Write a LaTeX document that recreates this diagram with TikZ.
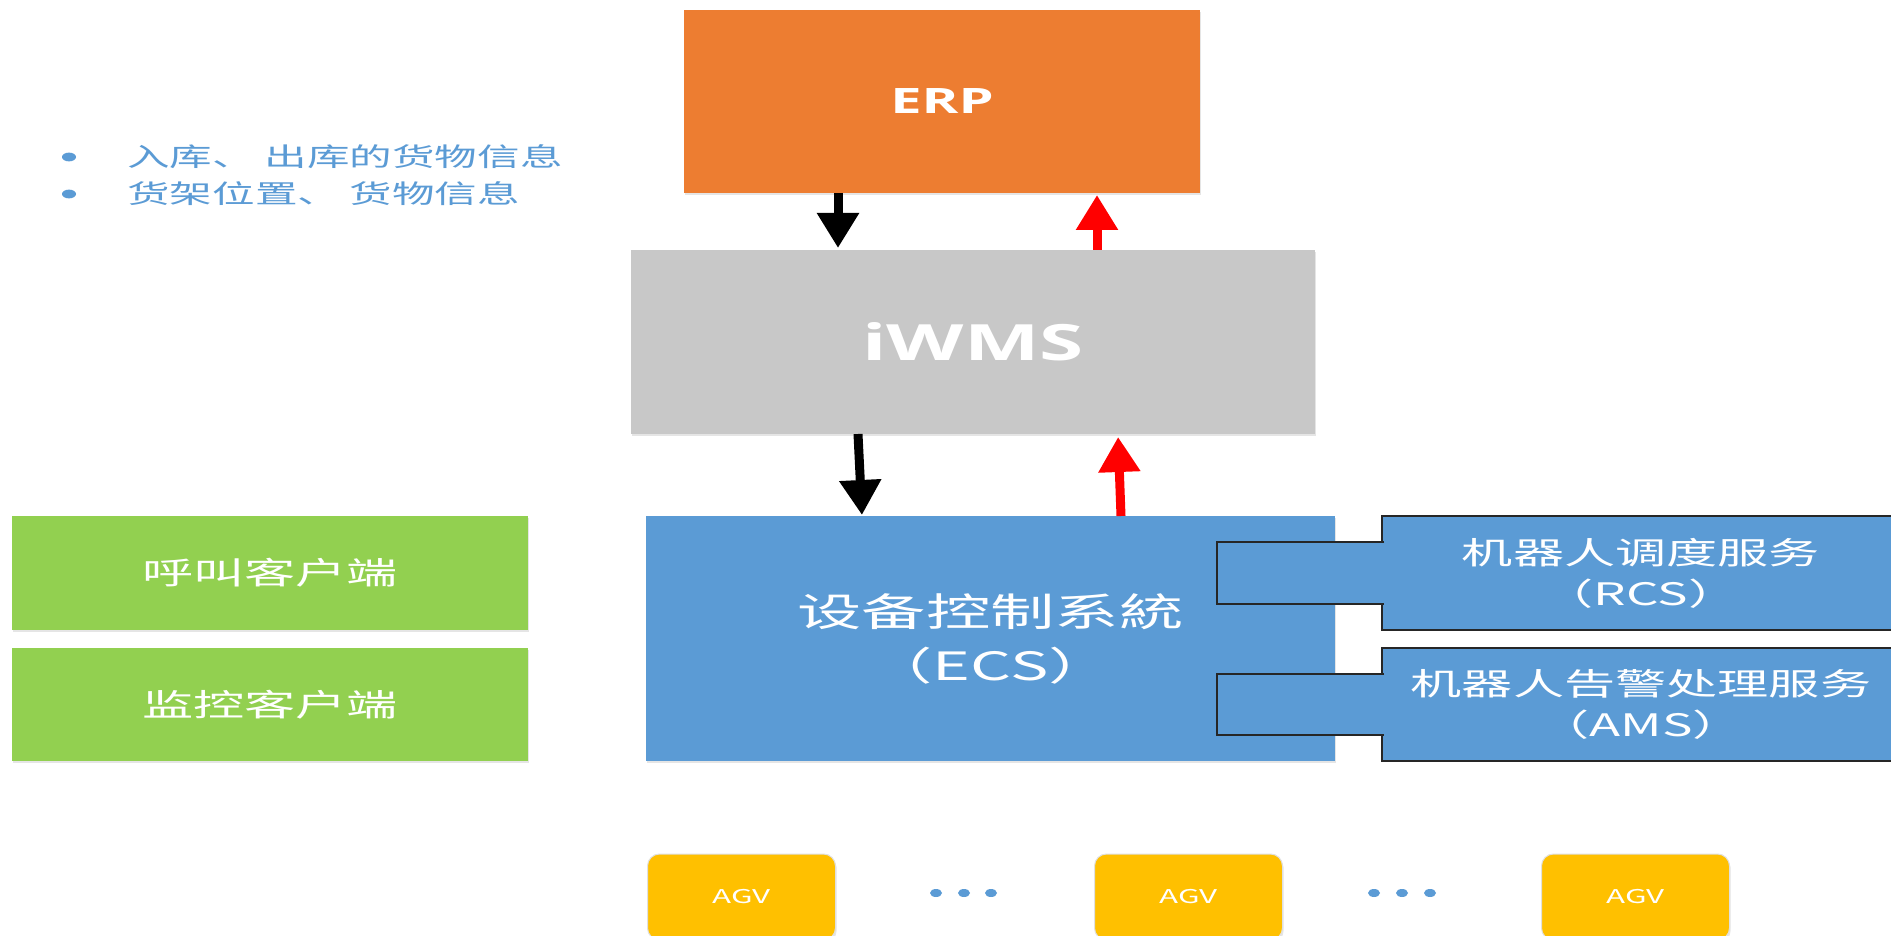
\documentclass[tikz,border=0pt]{standalone}
\usepackage{fontspec}
\newfontfamily\cjk[FakeStretch=1.65]{Noto Sans CJK SC}
\newfontfamily\latin[FakeStretch=1.6]{Open Sans}
\usetikzlibrary{arrows.meta,shadows}

\definecolor{erporange}{HTML}{ED7D31}
\definecolor{wmsgray}{HTML}{C8C8C8}
\definecolor{ecsblue}{HTML}{5B9BD5}
\definecolor{clientgreen}{HTML}{92D050}
\definecolor{agvyellow}{HTML}{FFC000}
\definecolor{edgedark}{HTML}{262626}

\begin{document}
\begin{tikzpicture}[x=0.5pt,y=-0.5pt,
  box/.style={rectangle, inner sep=0pt, outer sep=0pt, text=white, align=center},
  soft/.style={drop shadow={shadow xshift=0.6pt, shadow yshift=-1.2pt, fill=black, opacity=0.10}},
  arrowline/.style={line width=4.5pt, -{Triangle[length=17.5pt,width=20pt]}},
  downarrow/.style={arrowline, draw=black},
  uparrow/.style={arrowline, draw=red},
  service/.style={box, fill=ecsblue, draw=edgedark, line width=1pt, minimum width=259pt,
    font=\cjk\fontsize{15.5}{20.5}\selectfont},
  client/.style={box, soft, fill=clientgreen, minimum width=258pt,
    font=\cjk\fontsize{15.5}{18}\selectfont},
  agv/.style={box, soft, fill=agvyellow, draw=black!12, line width=0.5pt, rounded corners=6pt,
    minimum width=94pt, minimum height=43pt, font=\cjk\fontsize{9.5}{11}\selectfont},
  link/.style={fill=ecsblue, draw=edgedark, line width=1pt},
  dot/.style={fill=ecsblue, draw=none},
  info/.style={anchor=west, inner sep=0pt, text=ecsblue, font=\cjk\fontsize{12.9}{15}\selectfont},
]
\useasboundingbox (0,0) rectangle (1891,936);
\clip (0,0) rectangle (1891,936);
\fill[white] (0,0) rectangle (1891,936);

% legend of exchanged data
\fill[dot] (69,157) ellipse (3.5pt and 2.2pt);
\fill[dot] (69,194) ellipse (3.5pt and 2.2pt);
\node[info] (info1) at (127,157) {入库、 出库的货物信息};
\node[info] (info2) at (127,194) {货架位置、 货物信息};

% main system stack
\node[box, soft, fill=erporange, minimum width=258pt, minimum height=91.5pt,
  font=\latin\bfseries\fontsize{17.5}{20}\selectfont] (erp) at (942,101.5) {ERP};
\node[box, soft, fill=wmsgray, minimum width=342pt, minimum height=92pt,
  font=\latin\bfseries\fontsize{25}{28}\selectfont] (iwms) at (973,342) {iWMS};
\node[box, soft, fill=ecsblue, minimum width=344.5pt, minimum height=122.5pt,
  font=\cjk\fontsize{19.5}{27}\selectfont] (ecs) at (990.5,638.5) {设备控制系統\\（ECS）};

% services attached to the ECS
\node[service, minimum height=57pt] (rcs) at (1641,573) {机器人调度服务\\（RCS）};
\node[service, minimum height=56.5pt] (ams) at (1641,704.5) {机器人告警处理服务\\（AMS）};

\coordinate (rb1) at (1217,542);
\coordinate (rb2) at (1217,604);
\coordinate (ab1) at (1217,674);
\coordinate (ab2) at (1217,735);
\filldraw[link] ([xshift=1pt]rcs.west |- rb1) -- (rb1) -- (rb2) -- ([xshift=1pt]rcs.west |- rb2);
\filldraw[link] ([xshift=1pt]ams.west |- ab1) -- (ab1) -- (ab2) -- ([xshift=1pt]ams.west |- ab2);

% clients
\node[client, minimum height=57pt] (call) at (270,573) {呼叫客户端};
\node[client, minimum height=56.5pt] (monitor) at (270,704.5) {监控客户端};

% vehicles
\node[agv] (agv1) at (741.5,897) {AGV};
\node[agv] (agv2) at (1188.5,897) {AGV};
\node[agv] (agv3) at (1635.5,897) {AGV};
\foreach \x in {936,964,991,1374,1402,1430}
  \fill[dot] (\x,893) ellipse (3pt and 2pt);

% data flow arrows
\coordinate (x1) at (838,0);
\coordinate (x2) at (1097,0);
\coordinate (x3a) at (858,0);
\coordinate (x3b) at (862,0);
\coordinate (x4a) at (1121,0);
\coordinate (x4b) at (1118,0);
\draw[downarrow, shorten >=1pt] (erp.south -| x1) -- (iwms.north -| x1);
\draw[uparrow, shorten >=1pt] (iwms.north -| x2) -- (erp.south -| x2);
\draw[downarrow, shorten >=0.5pt] (iwms.south -| x3a) -- (ecs.north -| x3b);
\draw[uparrow, shorten >=1.5pt] (ecs.north -| x4a) -- (iwms.south -| x4b);
\end{tikzpicture}
\end{document}
